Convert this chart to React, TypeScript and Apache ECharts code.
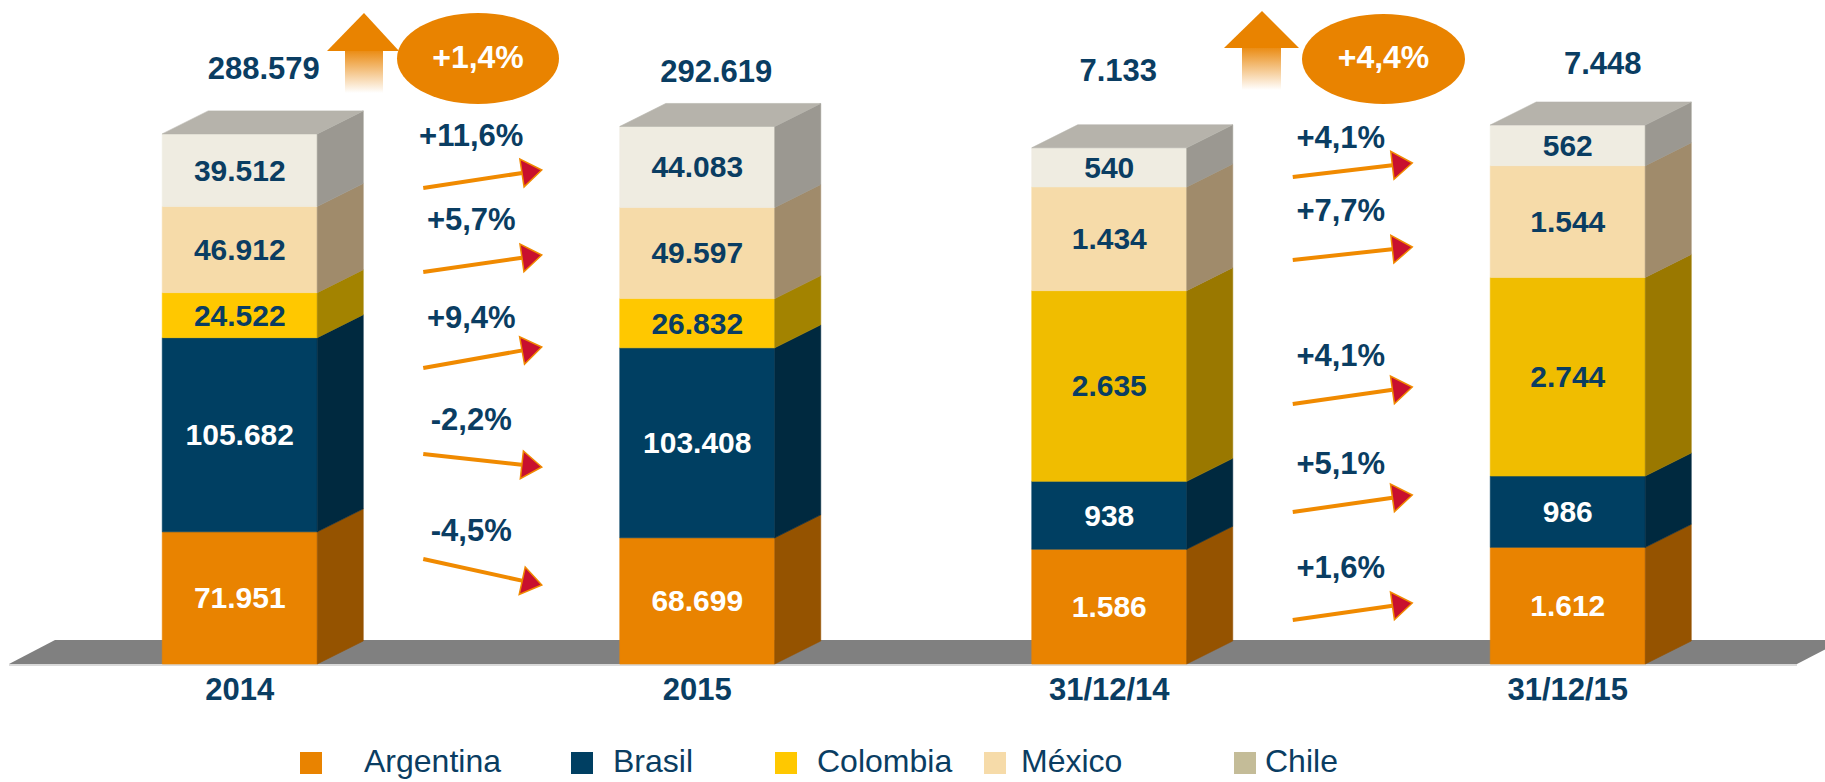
import React, { useEffect, useRef } from "react";
import * as echarts from "echarts";

// ---------- data ----------
const COUNTRIES = ["Argentina", "Brasil", "Colombia", "México", "Chile"];
const YEAR_CATEGORIES = ["2014", "2015"];
const DATE_CATEGORIES = ["31/12/14", "31/12/15"];
// values in COUNTRIES order
const YEAR_2014 = [71951, 105682, 24522, 46912, 39512];
const YEAR_2015 = [68699, 103408, 26832, 49597, 44083];
const DATE_2014 = [1586, 938, 2635, 1434, 540];
const DATE_2015 = [1612, 986, 2744, 1544, 562];

// ---------- styles / layout ----------
const FONT = '"Liberation Sans", Arial, Helvetica, sans-serif';
const NAVY = "#0a3d62";
const ORANGE = "#e98300";
const BAR_W = 155;
const DX = 46;
const DY = 23;
const BASE_Y = 664;
const FRONT = ["#e98300", "#003f62", "#ffc800", "#f6dba9", "#efece1"];
const SIDE = ["#955300", "#00293f", "#a38300", "#a08b6b", "#9b9891"];
const FRONT_RIGHT_COLOMBIA = "#f0bd00";
const SIDE_RIGHT_COLOMBIA = "#9a7800";
const TOP_FACE = "#b6b3ab";
const LABEL_COLOR = ["#ffffff", "#ffffff", NAVY, NAVY, NAVY];
const LEGEND_COLOR = ["#e98300", "#003f62", "#ffc800", "#f6dba9", "#c4bc98"];
const LEGEND_MARK_X = [300, 571, 775, 984, 1234];
const LEGEND_TEXT_X = [364, 613, 817, 1021, 1265];
const TOTAL_DX = [[24, 19], [9, 35]];
const TOTAL_Y = [[68, 71], [70, 63]];
const CHANGE_LAYOUT = [
  { text: [530, 419, 317, 219, 135], from: [559, 454, 368, 272, 188], to: [585, 467, 347, 255, 170] },
  { text: [567, 463, 355, 210, 137], from: [620, 512, 404, 260, 177], to: [603, 495, 387, 247, 163] },
];
const UP_ARROWS = [
  { tipX: 364, tipY: 13, headY: 51, headL: 327, headR: 399, shaftL: 345, shaftR: 383, shaftB: 93, cx: 478, cy: 58.5, rx: 81, ry: 45.5 },
  { tipX: 1262, tipY: 11, headY: 48, headL: 1224, headR: 1299, shaftL: 1242, shaftR: 1281, shaftB: 90, cx: 1383.5, cy: 59, rx: 81.5, ry: 45 },
];

const fmt = (n: number) => String(n).replace(/\B(?=(\d{3})+(?!\d))/g, ".");
const pct = (a: number, b: number) => {
  const p = (b / a - 1) * 100;
  return (p >= 0 ? "+" : "") + p.toFixed(1).replace(".", ",") + "%";
};
const sum = (a: number[]) => a.reduce((s, v) => s + v, 0);

function buildOption() {
  const groups = [
    { cats: YEAR_CATEGORIES, before: YEAR_2014, after: YEAR_2015, max: 299400, left: 11, width: 915 },
    { cats: DATE_CATEGORIES, before: DATE_2014, after: DATE_2015, max: 7600, left: 880, width: 917 },
  ];
  const series: any[] = [];
  groups.forEach((g, gi) => {
    const cols = [g.before, g.after];
    COUNTRIES.forEach((name, ci) => {
      const data = cols.map((col, k) => {
        const base = sum(col.slice(0, ci));
        return [k, base, base + col[ci], col[ci]];
      });
      const front = gi === 1 && ci === 2 ? FRONT_RIGHT_COLOMBIA : FRONT[ci];
      const side = gi === 1 && ci === 2 ? SIDE_RIGHT_COLOMBIA : SIDE[ci];
      const isTop = ci === COUNTRIES.length - 1;
      series.push({
        type: "custom",
        name,
        xAxisIndex: gi,
        yAxisIndex: gi,
        clip: false,
        z: 5,
        encode: { x: 0, y: [1, 2] },
        data,
        renderItem: (params: any, api: any) => {
          const cat = api.value(0);
          const pb = api.coord([cat, api.value(1)]);
          const pt = api.coord([cat, api.value(2)]);
          const cx = pb[0];
          const x0 = cx - BAR_W / 2;
          const x1 = cx + BAR_W / 2;
          const yb = pb[1];
          const yt = pt[1];
          const children: any[] = [
            {
              type: "rect",
              shape: { x: x0, y: yt, width: BAR_W, height: yb - yt },
              style: { fill: front, stroke: front, lineWidth: 0.6 },
            },
            {
              type: "polygon",
              shape: { points: [[x1, yt], [x1 + DX, yt - DY], [x1 + DX, yb - DY], [x1, yb]] },
              style: { fill: side, stroke: side, lineWidth: 0.6 },
            },
          ];
          if (isTop) {
            children.push({
              type: "polygon",
              shape: { points: [[x0, yt], [x0 + DX, yt - DY], [x1 + DX, yt - DY], [x1, yt]] },
              style: { fill: TOP_FACE, stroke: TOP_FACE, lineWidth: 0.6 },
            });
          }
          children.push({
            type: "text",
            x: cx,
            y: (yt + yb) / 2,
            style: {
              text: fmt(api.value(3)),
              fill: LABEL_COLOR[ci],
              fontSize: 30,
              fontWeight: "bold",
              fontFamily: FONT,
              align: "center",
              verticalAlign: "middle",
            },
          });
          return { type: "group", children };
        },
      });
    });
    // totals
    series.push({
      type: "custom",
      name: "Total",
      xAxisIndex: gi,
      yAxisIndex: gi,
      clip: false,
      z: 6,
      encode: { x: 0, y: 1 },
      data: cols.map((col, k) => [k, sum(col)]),
      renderItem: (params: any, api: any) => {
        const k = params.dataIndex;
        const p = api.coord([api.value(0), api.value(1)]);
        return {
          type: "text",
          x: p[0] + TOTAL_DX[gi][k],
          y: TOTAL_Y[gi][k],
          style: {
            text: fmt(api.value(1)),
            fill: NAVY,
            fontSize: 31,
            fontWeight: "bold",
            fontFamily: FONT,
            align: "center",
            verticalAlign: "middle",
          },
        };
      },
    });
    // change arrows between the two bars
    series.push({
      type: "custom",
      name: "Variación",
      xAxisIndex: gi,
      yAxisIndex: gi,
      clip: false,
      z: 6,
      encode: { x: 0, y: 1 },
      data: COUNTRIES.map((_, i) => [0, 0, i]),
      renderItem: (params: any, api: any) => {
        const i = params.dataIndex;
        const lay = CHANGE_LAYOUT[gi];
        const xa = api.coord([0, 0])[0] + BAR_W / 2 + DX + 60;
        const xb = api.coord([1, 0])[0] - BAR_W / 2 - 78;
        const ya = lay.from[i];
        const yb = lay.to[i];
        const len = Math.hypot(xb - xa, yb - ya);
        const ux = (xb - xa) / len;
        const uy = (yb - ya) / len;
        const hl = 20;
        const hw = 14;
        const bx = xb - ux * hl;
        const by = yb - uy * hl;
        const nx = -uy;
        const ny = ux;
        return {
          type: "group",
          children: [
            {
              type: "line",
              shape: { x1: xa, y1: ya, x2: bx + ux * 2, y2: by + uy * 2 },
              style: { stroke: "#f08a00", lineWidth: 4 },
            },
            {
              type: "polygon",
              shape: {
                points: [
                  [xb, yb],
                  [bx + nx * hw, by + ny * hw],
                  [bx - nx * hw, by - ny * hw],
                ],
              },
              style: { fill: "#c8102e", stroke: "#f08a00", lineWidth: 1.5 },
            },
            {
              type: "text",
              x: xa + 48,
              y: lay.text[i],
              style: {
                text: pct(g.before[i], g.after[i]),
                fill: NAVY,
                fontSize: 31,
                fontWeight: "bold",
                fontFamily: FONT,
                align: "center",
                verticalAlign: "middle",
              },
            },
          ],
        };
      },
    });
  });

  const graphics: any[] = [
    {
      type: "polygon",
      z: 0,
      shape: { points: [[9, BASE_Y], [55, BASE_Y - 24], [1843, BASE_Y - 24], [1797, BASE_Y]] },
      style: { fill: "#808080" },
    },
    {
      type: "rect",
      z: 0,
      shape: { x: 9, y: BASE_Y, width: 1788, height: 2 },
      style: { fill: "#dadada" },
    },
  ];
  UP_ARROWS.forEach((a, gi) => {
    const g = groups[gi];
    graphics.push(
      {
        type: "rect",
        z: 10,
        shape: { x: a.shaftL, y: a.headY - 1, width: a.shaftR - a.shaftL, height: a.shaftB - a.headY + 1 },
        style: {
          fill: new echarts.graphic.LinearGradient(0, 0, 0, 1, [
            { offset: 0, color: "#ea8a10" },
            { offset: 1, color: "#ffffff" },
          ]),
        },
      },
      {
        type: "polygon",
        z: 10,
        shape: { points: [[a.headL, a.headY], [a.tipX, a.tipY], [a.headR, a.headY]] },
        style: { fill: ORANGE },
      },
      {
        type: "ellipse",
        z: 10,
        shape: { cx: a.cx, cy: a.cy, rx: a.rx, ry: a.ry },
        style: { fill: ORANGE },
      },
      {
        type: "text",
        z: 11,
        x: a.cx,
        y: a.cy - 2,
        style: {
          text: pct(sum(g.before), sum(g.after)),
          fill: "#ffffff",
          fontSize: 32,
          fontWeight: "bold",
          fontFamily: FONT,
          align: "center",
          verticalAlign: "middle",
        },
      }
    );
  });
  COUNTRIES.forEach((name, i) => {
    graphics.push(
      {
        type: "rect",
        z: 10,
        shape: { x: LEGEND_MARK_X[i], y: 752, width: 22, height: 22 },
        style: { fill: LEGEND_COLOR[i] },
      },
      {
        type: "text",
        z: 10,
        x: LEGEND_TEXT_X[i],
        y: 761,
        style: {
          text: name,
          fill: NAVY,
          fontSize: 32,
          fontFamily: FONT,
          align: "left",
          verticalAlign: "middle",
        },
      }
    );
  });

  return {
    animation: false,
    backgroundColor: "#ffffff",
    grid: groups.map((g) => ({ left: g.left, width: g.width, top: 114, bottom: 782 - BASE_Y })),
    xAxis: groups.map((g, gi) => ({
      type: "category",
      gridIndex: gi,
      data: g.cats,
      axisLine: { show: false },
      axisTick: { show: false },
      splitLine: { show: false },
      axisLabel: {
        margin: 10,
        color: NAVY,
        fontSize: 31,
        fontWeight: "bold",
        fontFamily: FONT,
      },
    })),
    yAxis: groups.map((g, gi) => ({
      type: "value",
      gridIndex: gi,
      min: 0,
      max: g.max,
      show: false,
      splitLine: { show: false },
    })),
    graphic: graphics,
    series,
  };
}

export default function App() {
  const ref = useRef<HTMLDivElement>(null);
  useEffect(() => {
    if (!ref.current) return;
    const chart = echarts.init(ref.current, undefined, { renderer: "svg" });
    chart.setOption(buildOption() as any);
    return () => chart.dispose();
  }, []);
  return (
    <div
      ref={ref}
      style={{ position: "fixed", left: 0, top: 0, width: 1825, height: 782, background: "#fff" }}
    />
  );
}
